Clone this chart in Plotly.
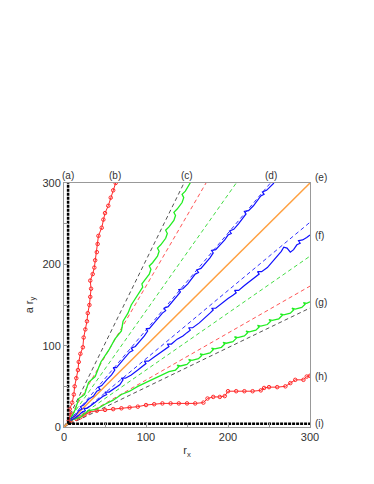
import math
import plotly.graph_objects as go

# ---------------- data ----------------
# reference rays through origin (angle in degrees, colour)
guide_angles = [64, 60, 55, 50, 40, 35, 30, 26]
guide_colors = ["#555555", "#ff5555", "#44dd44", "#3333ff", "#3333ff", "#44dd44", "#ff5555", "#555555"]

diag_x = [0, 300]
diag_y = [0, 300]

a_x = [5, 5]
a_y = [4, 300]
i_x = [5, 300]
i_y = [4, 4]

b_x = [6, 8, 7, 10, 12, 13, 15, 17, 18, 20, 23, 24, 26, 28, 29, 31, 32, 33, 32, 35, 37, 38, 40, 41, 42, 46, 48, 50, 54, 57, 60, 63]
b_y = [8, 15, 22, 30, 40, 50, 60, 70, 80, 90, 98, 110, 120, 130, 140, 150, 160, 170, 180, 188, 196, 205, 215, 225, 235, 245, 255, 263, 272, 282, 291, 300]

h_x = [8, 15, 20, 25, 30, 40, 50, 60, 70, 80, 90, 100, 110, 120, 130, 140, 150, 160, 170, 175, 182, 190, 196, 200, 210, 220, 230, 240, 244, 250, 260, 270, 276, 282, 292, 296, 300]
h_y = [8, 10, 12, 15, 18, 20, 21, 22, 23, 24, 25, 27, 28, 29, 29, 29, 29, 29, 30, 35, 37, 37, 38, 44, 44, 44, 44, 45, 48, 49, 49, 50, 54, 58, 58, 62, 63]

c_x = [8, 14, 18, 25, 30, 38, 45, 55, 62, 70, 72, 78, 82, 88, 92, 96, 95, 98, 104, 106, 104, 108, 114, 116, 114, 118, 124, 126, 124, 128, 134, 136, 134, 138, 144, 146, 144, 148, 153, 155]
c_y = [10, 22, 35, 40, 55, 62, 80, 95, 108, 118, 130, 140, 150, 160, 166, 172, 176, 180, 188, 194, 198, 202, 210, 216, 220, 224, 232, 238, 242, 246, 254, 260, 264, 268, 276, 282, 286, 290, 298, 302]

g_x = [8, 20, 30, 40, 50, 60, 70, 80, 90, 100, 110, 120, 128, 136, 140, 138, 142, 150, 154, 152, 156, 164, 168, 166, 170, 178, 182, 180, 184, 192, 196, 194, 198, 206, 210, 208, 212, 220, 224, 222, 226, 234, 238, 236, 240, 248, 252, 250, 254, 262, 266, 264, 268, 276, 280, 278, 282, 290, 294, 292, 296, 300]
g_y = [8, 12, 20, 22, 28, 33, 40, 44, 50, 55, 60, 64, 68, 70, 74, 76, 75, 77, 81, 83, 82, 84, 88, 90, 89, 91, 95, 97, 96, 98, 102, 104, 103, 105, 109, 111, 110, 112, 116, 118, 117, 119, 123, 125, 124, 126, 130, 132, 131, 133, 137, 139, 138, 140, 144, 146, 145, 147, 151, 153, 152, 154]

d_x = [8, 14, 18, 22, 20, 24, 30, 36, 40, 44, 42, 46, 52, 58, 62, 60, 64, 70, 76, 80, 84, 82, 87, 93, 98, 102, 100, 104, 110, 116, 120, 124, 122, 127, 133, 138, 142, 140, 145, 151, 156, 160, 164, 162, 167, 173, 178, 182, 180, 185, 191, 196, 200, 204, 202, 207, 213, 218, 222, 220, 225, 231, 236, 240, 244, 242, 247, 252, 256]
d_y = [10, 14, 20, 22, 25, 27, 34, 38, 44, 46, 49, 51, 58, 64, 70, 73, 73, 80, 86, 92, 94, 97, 99, 106, 112, 118, 121, 121, 128, 134, 140, 143, 146, 148, 155, 160, 166, 169, 170, 176, 182, 188, 190, 193, 195, 202, 208, 214, 217, 218, 224, 230, 236, 238, 241, 243, 250, 256, 262, 265, 266, 272, 278, 284, 286, 289, 291, 296, 300]

f_x = [8, 15, 22, 26, 24, 28, 35, 42, 48, 52, 50, 55, 62, 68, 72, 70, 75, 82, 90, 96, 100, 98, 103, 110, 118, 124, 128, 126, 131, 138, 145, 150, 154, 152, 157, 165, 172, 178, 182, 180, 185, 192, 200, 206, 210, 208, 213, 220, 228, 234, 238, 236, 241, 248, 255, 260, 265, 268, 272, 276, 280, 284, 288, 286, 291, 296, 300]
f_y = [8, 12, 18, 20, 23, 23, 28, 34, 38, 40, 43, 43, 48, 52, 58, 60, 60, 64, 70, 75, 78, 81, 81, 86, 92, 96, 99, 102, 102, 108, 112, 116, 119, 122, 122, 128, 134, 140, 144, 146, 146, 152, 158, 162, 165, 168, 168, 174, 180, 185, 188, 191, 191, 196, 204, 210, 216, 221, 220, 215, 218, 224, 226, 229, 230, 233, 236]

top_labels = ["(a)", "(b)", "(c)", "(d)"]
top_label_x = [5, 62, 150, 252]
right_labels = ["(e)", "(f)", "(g)", "(h)", "(i)"]
right_label_y = [300, 235, 153, 62, 4]

# ---------------- figure ----------------
fig = go.Figure()

for ang, col in zip(guide_angles, guide_colors):
    s = math.tan(math.radians(ang))
    xe = min(300.0, 300.0 / s)
    fig.add_trace(go.Scatter(x=[0, xe], y=[0, s * xe], mode="lines",
                             line=dict(color=col, width=1, dash="4px,3px"), hoverinfo="skip"))

fig.add_trace(go.Scatter(x=diag_x, y=diag_y, mode="lines", line=dict(color="#ffa040", width=1.5)))

for xs, ys in [(b_x, b_y), (h_x, h_y)]:
    fig.add_trace(go.Scatter(x=xs, y=ys, mode="lines+markers",
                             line=dict(color="#ff2a2a", width=1),
                             marker=dict(symbol="circle-open", size=3.5, color="#ff2a2a", line=dict(width=1))))

for xs, ys in [(c_x, c_y), (g_x, g_y)]:
    fig.add_trace(go.Scatter(x=xs, y=ys, mode="lines", line=dict(color="#22ee22", width=1.3)))

for xs, ys in [(d_x, d_y), (f_x, f_y)]:
    fig.add_trace(go.Scatter(x=xs, y=ys, mode="lines", line=dict(color="#1010ff", width=1.2)))

for xs, ys in [(a_x, a_y), (i_x, i_y)]:
    fig.add_trace(go.Scatter(x=xs, y=ys, mode="lines", line=dict(color="#000000", width=2.5, dash="3px,1px")))

ann = []
for t, xv in zip(top_labels, top_label_x):
    ann.append(dict(text=t, x=xv, xref="x", y=1, yref="paper", yanchor="bottom", yshift=0,
                    showarrow=False, font=dict(size=10, color="#333333")))
for t, yv in zip(right_labels, right_label_y):
    ann.append(dict(text=t, x=1, xref="paper", xanchor="left", xshift=3, y=yv, yref="y",
                    yshift=6 if t == "(e)" else 0,
                    showarrow=False, font=dict(size=10, color="#333333")))

axis_common = dict(range=[0, 300], showgrid=False, zeroline=False, showline=True, mirror=True,
                   linecolor="#999999", linewidth=1, ticks="inside", ticklen=4, tickcolor="#999999",
                   tickvals=[0, 100, 200, 300],
                   minor=dict(tickvals=[50, 150, 250], ticks="inside", ticklen=4, tickcolor="#999999"),
                   tickfont=dict(size=11, color="#333333"), automargin=False)

fig.update_layout(
    width=366, height=476,
    margin=dict(l=56, r=64, t=175, b=57),
    paper_bgcolor="white", plot_bgcolor="white",
    showlegend=False,
    font=dict(family="Liberation Sans, Arial, sans-serif", size=11, color="#333333"),
    xaxis=dict(axis_common, title=dict(text="r<sub>x</sub>", standoff=4, font=dict(size=11))),
    yaxis=dict(axis_common, title=dict(text="a r<sub>y</sub>", standoff=6, font=dict(size=11))),
    annotations=ann,
)

fig.write_html("out.html")
